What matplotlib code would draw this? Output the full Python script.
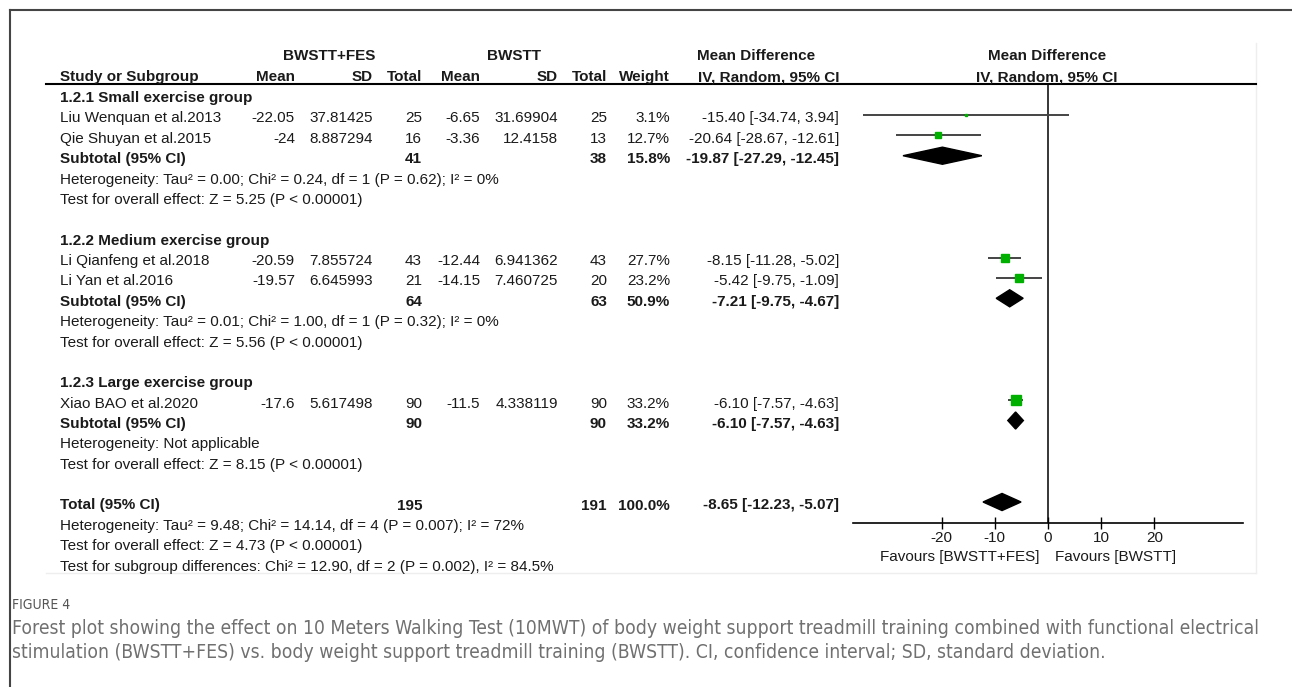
import numpy as np
import matplotlib.pyplot as plt
from matplotlib.patches import Polygon

W, H = 1292, 687

# study level data
studies = ["Liu Wenquan et al.2013", "Qie Shuyan et al.2015", "Li Qianfeng et al.2018",
           "Li Yan et al.2016", "Xiao BAO et al.2020"]
fes_mean = ["-22.05", "-24", "-20.59", "-19.57", "-17.6"]
fes_sd = ["37.81425", "8.887294", "7.855724", "6.645993", "5.617498"]
fes_n = [25, 16, 43, 21, 90]
ctl_mean = ["-6.65", "-3.36", "-12.44", "-14.15", "-11.5"]
ctl_sd = ["31.69904", "12.4158", "6.941362", "7.460725", "4.338119"]
ctl_n = [25, 13, 43, 20, 90]
weight = [3.1, 12.7, 27.7, 23.2, 33.2]
md = [-15.40, -20.64, -8.15, -5.42, -6.10]
lo = [-34.74, -28.67, -11.28, -9.75, -7.57]
hi = [3.94, -12.61, -5.02, -1.09, -4.63]
study_row = [1, 2, 8, 9, 15]

# subgroups
groups = ["1.2.1 Small exercise group", "1.2.2 Medium exercise group", "1.2.3 Large exercise group"]
group_row = [0, 7, 14]
sub_row = [3, 10, 16]
sub_n_fes = [41, 64, 90]
sub_n_ctl = [38, 63, 90]
sub_weight = [15.8, 50.9, 33.2]
sub_md = [-19.87, -7.21, -6.10]
sub_lo = [-27.29, -9.75, -7.57]
sub_hi = [-12.45, -4.67, -4.63]
sub_het = ["Heterogeneity: Tau\u00b2 = 0.00; Chi\u00b2 = 0.24, df = 1 (P = 0.62); I\u00b2 = 0%",
           "Heterogeneity: Tau\u00b2 = 0.01; Chi\u00b2 = 1.00, df = 1 (P = 0.32); I\u00b2 = 0%",
           "Heterogeneity: Not applicable"]
sub_z = ["Test for overall effect: Z = 5.25 (P < 0.00001)",
         "Test for overall effect: Z = 5.56 (P < 0.00001)",
         "Test for overall effect: Z = 8.15 (P < 0.00001)"]

# overall
total_row = 20
total_n = (195, 191)
total_md, total_lo, total_hi = -8.65, -12.23, -5.07
total_notes = ["Heterogeneity: Tau\u00b2 = 9.48; Chi\u00b2 = 14.14, df = 4 (P = 0.007); I\u00b2 = 72%",
               "Test for overall effect: Z = 4.73 (P < 0.00001)",
               "Test for subgroup differences: Chi\u00b2 = 12.90, df = 2 (P = 0.002), I\u00b2 = 84.5%"]
xticks = [-20, -10, 0, 10, 20]

plt.rcParams['font.family'] = ['Liberation Sans', 'DejaVu Sans']
FS = 11
TXT = '#1a1a1a'
GREEN = '#00b000'

fig = plt.figure(figsize=(W / 100, H / 100), dpi=100)
bg = fig.add_axes([0, 0, 1, 1])
bg.set_xlim(0, W)
bg.set_ylim(H, 0)
bg.axis('off')

Y0, DY = 94.6, 20.37
def ty(r):
    return Y0 + DY * r + 3.5

def put(x, r, s, ha='right', bold=False, y=None):
    bg.text(x, ty(r) if y is None else y, s, ha=ha, va='center', fontsize=FS,
            color=TXT, fontweight='bold' if bold else 'normal')

# frames
bg.plot([10, W], [10, 10], color='#444444', lw=1.5)
bg.plot([10, 10], [10, H], color='#444444', lw=1.5)
bg.plot([1256, 1256], [43, 573], color='#eeeeee', lw=1)
bg.plot([46, 1256], [573, 573], color='#eeeeee', lw=1)

# headers
bg.text(329, 56, "BWSTT+FES", ha='center', va='center', fontsize=FS, fontweight='bold', color=TXT)
bg.text(514, 56, "BWSTT", ha='center', va='center', fontsize=FS, fontweight='bold', color=TXT)
bg.text(756, 56, "Mean Difference", ha='center', va='center', fontsize=FS, fontweight='bold', color=TXT)
bg.text(1047, 56, "Mean Difference", ha='center', va='center', fontsize=FS, fontweight='bold', color=TXT)
bg.text(1047, 77, "IV, Random, 95% CI", ha='center', va='center', fontsize=FS, fontweight='bold', color=TXT)
hdr = [(60, "Study or Subgroup", 'left'), (295, "Mean", 'right'), (373, "SD", 'right'),
       (422, "Total", 'right'), (480, "Mean", 'right'), (558, "SD", 'right'),
       (607, "Total", 'right'), (670, "Weight", 'right'), (839, "IV, Random, 95% CI", 'right')]
for x, s, ha in hdr:
    bg.text(x, 77, s, ha=ha, va='center', fontsize=FS, fontweight='bold', color=TXT)
bg.plot([46, 1256], [84, 84], color='black', lw=1.5)

# study rows
for i, r in enumerate(study_row):
    put(60, r, studies[i], ha='left')
    put(295, r, fes_mean[i])
    put(373, r, fes_sd[i])
    put(422, r, str(fes_n[i]))
    put(480, r, ctl_mean[i])
    put(558, r, ctl_sd[i])
    put(607, r, str(ctl_n[i]))
    put(670, r, f"{weight[i]:.1f}%")
    put(839, r, f"{md[i]:.2f} [{lo[i]:.2f}, {hi[i]:.2f}]")

for g in range(3):
    put(60, group_row[g], groups[g], ha='left', bold=True)
    r = sub_row[g]
    put(60, r, "Subtotal (95% CI)", ha='left', bold=True)
    put(422, r, str(sub_n_fes[g]), bold=True)
    put(607, r, str(sub_n_ctl[g]), bold=True)
    put(670, r, f"{sub_weight[g]:.1f}%", bold=True)
    put(839, r, f"{sub_md[g]:.2f} [{sub_lo[g]:.2f}, {sub_hi[g]:.2f}]", bold=True)
    put(60, r + 1, sub_het[g], ha='left')
    put(60, r + 2, sub_z[g], ha='left')

put(60, total_row, "Total (95% CI)", ha='left', bold=True)
put(422, total_row, str(total_n[0]), bold=True)
put(607, total_row, str(total_n[1]), bold=True)
put(670, total_row, "100.0%", bold=True)
put(839, total_row, f"{total_md:.2f} [{total_lo:.2f}, {total_hi:.2f}]", bold=True)
for k, s in enumerate(total_notes):
    put(60, total_row + 1 + k, s, ha='left')

bg.text(1040, 557, "Favours [BWSTT+FES]", ha='right', va='center', fontsize=FS, color=TXT)
bg.text(1055, 557, "Favours [BWSTT]", ha='left', va='center', fontsize=FS, color=TXT)

# forest panel
ax = fig.add_axes([853 / W, (H - 523) / H, 390 / W, (523 - 84) / H])
ax.set_facecolor('none')
ax.set_xlim(-36.7, 36.7)
ax.set_ylim((523 - Y0) / DY, (84 - Y0) / DY)
for sp in ['top', 'left', 'right']:
    ax.spines[sp].set_visible(False)
ax.spines['bottom'].set_linewidth(1.2)
ax.set_yticks([])
ax.set_xticks(xticks)
ax.set_xticklabels([str(t) for t in xticks])
ax.tick_params(axis='x', direction='inout', length=9, width=1, pad=1, labelsize=FS, labelcolor=TXT)
ax.axvline(0, color='black', lw=1.1)

ax.hlines(study_row, lo, hi, color='#444444', lw=1.4)
sizes = np.sqrt(weight) * 1.15
for i in range(len(md)):
    ax.plot(md[i], study_row[i], 's', ms=sizes[i], color=GREEN, mec=GREEN)

h = 0.42
for m, l, u, r in zip(sub_md + [total_md], sub_lo + [total_lo], sub_hi + [total_hi], sub_row + [total_row]):
    ax.add_patch(Polygon([[l, r], [m, r - h], [u, r], [m, r + h]], closed=True, color='black'))

# caption
cap_font = ['Liberation Sans Narrow', 'DejaVu Sans']
bg.text(12, 605, "FIGURE 4", ha='left', va='center', fontsize=10, color='#555555',
        family=cap_font, fontstretch='condensed')
line1 = ("Forest plot showing the effect on 10 Meters Walking Test (10MWT) of body weight support treadmill "
         "training combined with functional electrical")
line2 = ("stimulation (BWSTT+FES) vs. body weight support treadmill training (BWSTT). CI, confidence "
         "interval; SD, standard deviation.")
c1 = bg.text(12, 629, line1, ha='left', va='center', fontsize=12, color='#707070',
             family=cap_font, fontstretch='condensed')
c2 = bg.text(12, 652, line2, ha='left', va='center', fontsize=12, color='#707070',
             family=cap_font, fontstretch='condensed')
fig.canvas.draw()
wpx = c1.get_window_extent().width
fs = 12 * (1258 - 12) / wpx
c1.set_fontsize(fs)
c2.set_fontsize(fs)

fig.savefig("out.png", dpi=100)
